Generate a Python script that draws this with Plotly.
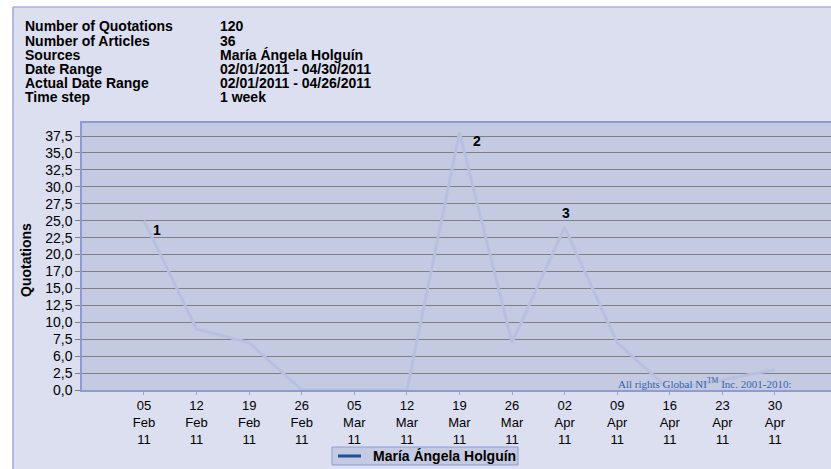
import plotly.graph_objects as go

# ---- data ----
weeks = ["2011-02-05", "2011-02-12", "2011-02-19", "2011-02-26", "2011-03-05", "2011-03-12",
         "2011-03-19", "2011-03-26", "2011-04-02", "2011-04-09", "2011-04-16", "2011-04-23",
         "2011-04-30"]
quotations = [25, 9, 7, 0, 0, 0, 38, 7, 24, 7, 0, None, 3]
week_labels = ["05<br>Feb<br>11", "12<br>Feb<br>11", "19<br>Feb<br>11", "26<br>Feb<br>11",
               "05<br>Mar<br>11", "12<br>Mar<br>11", "19<br>Mar<br>11", "26<br>Mar<br>11",
               "02<br>Apr<br>11", "09<br>Apr<br>11", "16<br>Apr<br>11", "23<br>Apr<br>11",
               "30<br>Apr<br>11"]
y_tickvals = [0, 2.5, 5, 7.5, 10, 12.5, 15, 17.5, 20, 22.5, 25, 27.5, 30, 32.5, 35, 37.5]
y_ticktext = ["0,0", "2,5", "6,0", "7,5", "10,0", "12,5", "15,0", "17,0", "20,0", "22,5",
              "25,0", "27,5", "30,0", "32,5", "35,0", "37,5"]
peak_labels = ["1", "2", "3"]
peak_index = [0, 6, 8]
info_keys = ["Number of Quotations", "Number of Articles", "Sources", "Date Range",
             "Actual Date Range", "Time step"]
info_vals = ["120", "36", "María Ángela Holguín", "02/01/2011 - 04/30/2011",
             "02/01/2011 - 04/26/2011", "1 week"]
series_name = "María Ángela Holguín"

# ---- layout geometry helpers ----
L, R, T, B = 82, 831, 123, 390
W_PLOT, H_PLOT = R - L, B - T


def px(x):
    return (x - L) / W_PLOT


def py(y):
    return (B - y) / H_PLOT


FONT = "Arial, Liberation Sans, sans-serif"
BG = "#dcdff0"
PLOT_BG = "#c5cae3"
BORDER = "#8f9bd0"
LEGEND_LINE = "#1f4e99"

fig = go.Figure()
fig.add_trace(go.Scatter(
    x=weeks, y=quotations, mode="lines", connectgaps=True, name=series_name,
    line=dict(color="#b8c0df", width=3), showlegend=False, hoverinfo="skip"))

annotations = []
shifts = [(13, -9), (18, -8), (1, 14)]
for lab, idx, (dx, dy) in zip(peak_labels, peak_index, shifts):
    annotations.append(dict(x=weeks[idx], y=quotations[idx], xref="x", yref="y",
                            text="<b>%s</b>" % lab,
                            showarrow=False, xshift=dx, yshift=dy,
                            font=dict(family=FONT, size=14, color="black")))
row_y = [26, 40.5, 55, 69, 83, 97.3]
for k, v, yy in zip(info_keys, info_vals, row_y):
    annotations.append(dict(x=px(23), y=py(yy), xref="paper", yref="paper", text="<b>%s</b>" % k,
                            showarrow=False, xanchor="left", yanchor="middle",
                            font=dict(family=FONT, size=14, color="black")))
    annotations.append(dict(x=px(218), y=py(yy), xref="paper", yref="paper", text="<b>%s</b>" % v,
                            showarrow=False, xanchor="left", yanchor="middle",
                            font=dict(family=FONT, size=14, color="black")))
annotations.append(dict(x=px(26), y=py(260), xref="paper", yref="paper", text="<b>Quotations</b>",
                        showarrow=False, textangle=-90, xanchor="center", yanchor="middle",
                        font=dict(family=FONT, size=14, color="black")))
annotations.append(dict(x=px(793), y=py(383), xref="paper", yref="paper",
                        text="All rights Global NI<sup>TM</sup> Inc. 2001-2010:",
                        showarrow=False, xanchor="right", yanchor="middle",
                        font=dict(family="Liberation Serif, Times New Roman, serif", size=11,
                                  color="#3563a9")))
# manual legend text
annotations.append(dict(x=px(371), y=py(456), xref="paper", yref="paper",
                        text="<b>%s</b>" % series_name, showarrow=False,
                        xanchor="left", yanchor="middle",
                        font=dict(family=FONT, size=14, color="black")))

shapes = [
    dict(type="rect", xref="paper", yref="paper", x0=px(-5), x1=px(12.5), y0=py(480), y1=py(-5),
         fillcolor="white", line=dict(width=0), layer="above"),
    dict(type="rect", xref="paper", yref="paper", x0=px(-5), x1=px(840), y0=py(6.5), y1=py(-5),
         fillcolor="white", line=dict(width=0), layer="above"),
    dict(type="line", xref="paper", yref="paper", x0=px(13), x1=px(13), y0=py(480), y1=py(7),
         line=dict(color=BORDER, width=1.2), layer="above"),
    dict(type="line", xref="paper", yref="paper", x0=px(13), x1=px(840), y0=py(7), y1=py(7),
         line=dict(color=BORDER, width=1.2), layer="above"),
    # manual legend box and sample line
    dict(type="rect", xref="paper", yref="paper", x0=px(332), x1=px(518), y0=py(465), y1=py(447),
         fillcolor=PLOT_BG, line=dict(color=BORDER, width=1), layer="above"),
    dict(type="line", xref="paper", yref="paper", x0=px(338), x1=px(361), y0=py(456), y1=py(456),
         line=dict(color=LEGEND_LINE, width=3), layer="above"),
]

fig.update_layout(
    width=831, height=469,
    margin=dict(l=L, r=831 - R, t=T, b=469 - B, pad=0, autoexpand=False),
    paper_bgcolor=BG, plot_bgcolor=PLOT_BG,
    font=dict(family=FONT, size=14, color="black"),
    annotations=annotations, shapes=shapes,
    showlegend=False,
    xaxis=dict(type="date", range=["2011-01-27 18:00", "2011-05-07 11:00"],
               tickmode="array", tickvals=weeks, ticktext=week_labels, automargin=False,
               showgrid=False, zeroline=False, ticks="outside", ticklen=3, tickcolor="#9aa6d6",
               showline=True, linecolor=BORDER, linewidth=1.5, mirror=True,
               tickfont=dict(family=FONT, size=13, color="black"), tickangle=0),
    yaxis=dict(range=[0, H_PLOT / (254 / 37.5)], tickmode="array", tickvals=y_tickvals,
               ticktext=y_ticktext, showgrid=True, gridcolor="#808080", gridwidth=1,
               automargin=False,
               zeroline=False, ticks="outside", ticklen=5, tickcolor="#808080",
               showline=True, linecolor=BORDER, linewidth=1.5, mirror=True,
               tickfont=dict(family=FONT, size=14, color="black")),
)

fig.write_html("out.html", config={"displayModeBar": False},
               post_script="document.body.style.margin='0';document.body.style.overflow='hidden';")
